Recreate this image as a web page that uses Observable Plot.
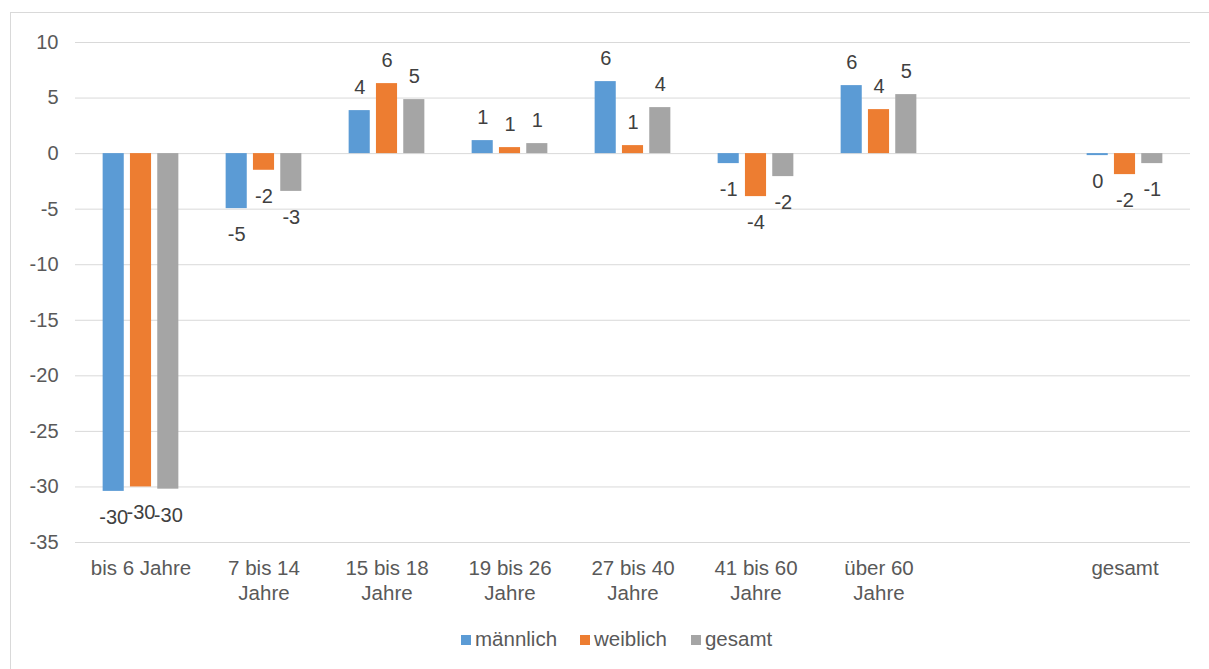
<!DOCTYPE html>
<html><head><meta charset="utf-8">
<script src="https://cdn.jsdelivr.net/npm/d3@7"></script>
<script src="https://cdn.jsdelivr.net/npm/@observablehq/plot@0.6"></script>
<style>
html,body{margin:0;padding:0;background:#fff;font-family:"Liberation Sans",Arial,sans-serif;overflow:hidden;}
#frame{position:absolute;left:10px;top:12px;width:1215px;height:670px;border:1px solid #d9d9d9;box-sizing:border-box;}
#chart{position:absolute;left:0;top:0;}
#legend{position:absolute;top:627px;left:461px;display:flex;align-items:center;font-size:20.5px;color:#595959;line-height:24px;}
.item{display:flex;align-items:center;}
.sw{width:10px;height:10px;margin-right:4px;margin-top:2px;}
</style></head>
<body>
<div id="frame"></div>
<div id="chart"></div>
<div id="legend"></div>
<script>
const categories = ["bis 6 Jahre", "7 bis 14\nJahre", "15 bis 18\nJahre", "19 bis 26\nJahre", "27 bis 40\nJahre", "41 bis 60\nJahre", "über 60\nJahre", " ", "gesamt"];
const series = ["männlich", "weiblich", "gesamt"];
const maennlich = [-30.4, -4.95, 3.87, 1.17, 6.48, -0.9, 6.12, null, -0.18];
const weiblich  = [-30.0, -1.5, 6.3, 0.54, 0.72, -3.87, 3.96, null, -1.89];
const gesamt    = [-30.2, -3.4, 4.86, 0.9, 4.14, -2.07, 5.31, null, -0.9];
const colors = ["#5B9BD5", "#ED7D31", "#A5A5A5"];
const yTicks = [10, 5, 0, -5, -10, -15, -20, -25, -30, -35];

const seriesValues = [maennlich, weiblich, gesamt];
const width = 1209, height = 610;
const marginLeft = 75, marginRight = 19;
const band = (width - marginLeft - marginRight) / categories.length;
const step = 27.3, barW = 22;

// round half away from zero, as in the original labels
const fmt = d => { const r = Math.sign(d.v) * Math.round(Math.abs(d.v)); return String(r === 0 ? 0 : r); };

const marks = [
  Plot.gridY(yTicks, {stroke: "#d9d9d9", strokeOpacity: 1, strokeWidth: 1})
];
seriesValues.forEach((vals, i) => {
  const data = categories.map((c, j) => ({cat: c, v: vals[j]})).filter(d => d.v != null);
  const center = band / 2 + (i - 1) * step;
  marks.push(Plot.barY(data, {
    x: "cat", y: "v", fill: colors[i],
    insetLeft: center - barW / 2, insetRight: band - center - barW / 2
  }));
  marks.push(Plot.text(data.filter(d => d.v >= 0), {
    x: "cat", y: "v", text: fmt, dx: (i - 1) * step, dy: -23,
    fontSize: 20, fill: "#404040"
  }));
  marks.push(Plot.text(data.filter(d => d.v < 0), {
    x: "cat", y: "v", text: fmt, dx: (i - 1) * step, dy: 26,
    fontSize: 20, fill: "#404040"
  }));
});
marks.push(Plot.axisY(yTicks, {tickSize: 0, tickPadding: 17, fontSize: 20, fill: "#595959", tickFormat: d => String(d)}));
marks.push(Plot.axisX({tickSize: 0, tickPadding: 15, fontSize: 20.5, fill: "#595959", lineHeight: 1.2, lineAnchor: "top"}));

const chart = Plot.plot({
  width, height,
  marginLeft, marginRight, marginTop: 42, marginBottom: 68,
  style: {fontFamily: "'Liberation Sans', Arial, sans-serif", background: "transparent"},
  x: {domain: categories, padding: 0, label: null},
  y: {domain: [-35, 10], label: null},
  marks
});
document.getElementById("chart").appendChild(chart);

const legend = document.getElementById("legend");
const gaps = [23, 24, 0];
series.forEach((s, i) => {
  const it = document.createElement("div");
  it.className = "item";
  it.style.marginRight = gaps[i] + "px";
  const sw = document.createElement("div");
  sw.className = "sw"; sw.style.background = colors[i];
  const t = document.createElement("span"); t.textContent = s;
  it.appendChild(sw); it.appendChild(t); legend.appendChild(it);
});
</script>
</body></html>
